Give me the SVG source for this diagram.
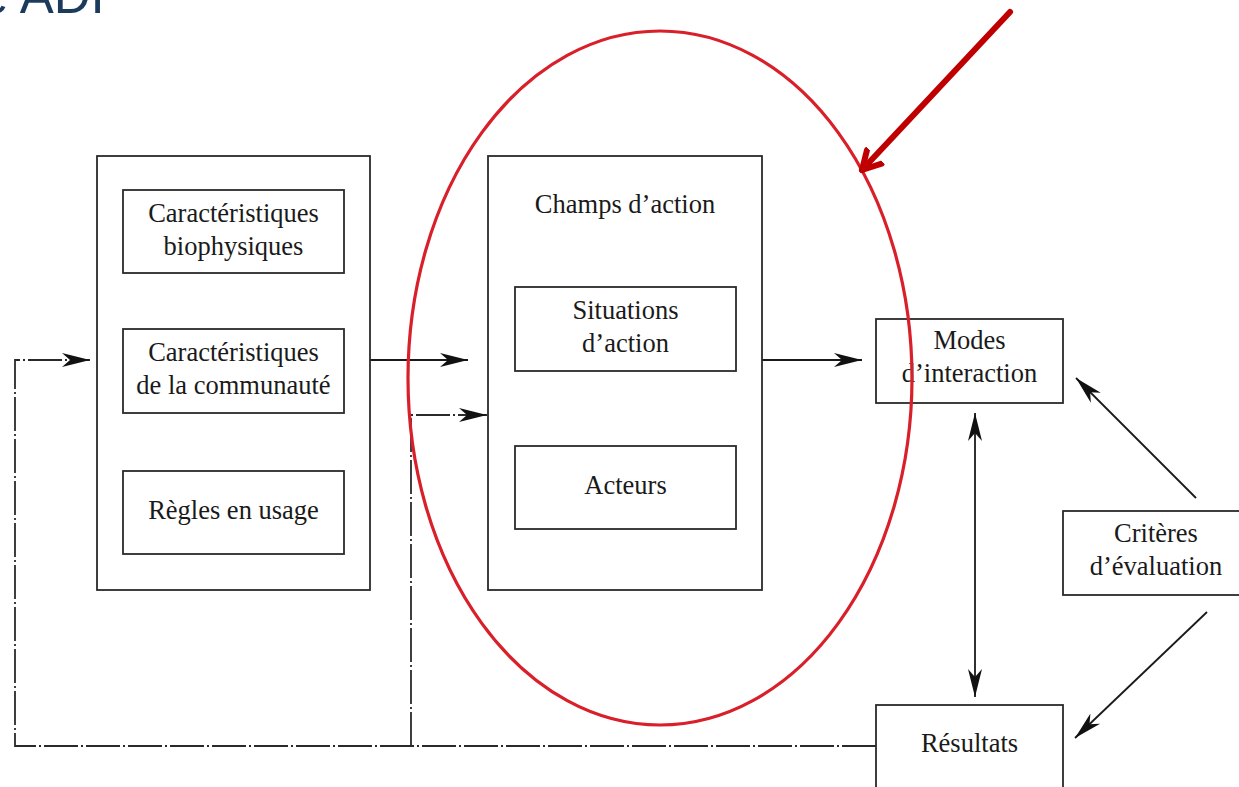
<svg xmlns="http://www.w3.org/2000/svg" width="1239" height="787" viewBox="0 0 1239 787">
<style>
.box{fill:none;stroke:#2a2a2a;stroke-width:1.8}
.t{font-family:"Liberation Serif","Times New Roman",serif;font-size:26.5px;fill:#1a1a1a;text-anchor:middle}
.ln{fill:none;stroke:#1a1a1a;stroke-width:1.8}
.dd{fill:none;stroke:#2a2a2a;stroke-width:1.8;stroke-dasharray:34 3 2 3}
</style>
<defs>
<marker id="ah" markerUnits="userSpaceOnUse" markerWidth="30" markerHeight="16" refX="28" refY="8" orient="auto-start-reverse" viewBox="0 0 30 16">
<path d="M0,1 L28,8 L0,15 L8,8 z" fill="#111"/>
</marker>
<marker id="rh" markerUnits="userSpaceOnUse" markerWidth="40" markerHeight="40" refX="20" refY="20" orient="auto" viewBox="0 0 40 40">
<path d="M2,10 L20,20 L2,30" fill="none" stroke="#c00000" stroke-width="6" stroke-linecap="round" stroke-linejoin="round"/>
</marker>
</defs>
<rect width="1239" height="787" fill="#fff"/>
<text x="-20" y="13" font-family="'Liberation Sans',Arial,sans-serif" font-size="51" fill="#1b3a5c">e ADI</text>

<g id="connectors">
<path class="dd" d="M876,746 H15 V360 H90" marker-end="url(#ah)"/>
<path class="dd" d="M411,746 V415 H487" marker-end="url(#ah)"/>
<path class="ln" d="M370,360 H468" marker-end="url(#ah)"/>
<path class="ln" d="M762,360 H862" marker-end="url(#ah)"/>
<path class="ln" d="M975,413 V697" marker-start="url(#ah)" marker-end="url(#ah)"/>
<path class="ln" d="M1196,498 L1076,378" marker-end="url(#ah)"/>
<path class="ln" d="M1207,612 L1075,738" marker-end="url(#ah)"/>
</g>

<g id="outer-left"><rect class="box" x="97" y="156" width="273" height="434"/></g>
<g id="carac-bio"><rect class="box" x="123" y="190" width="221" height="83"/>
<text class="t" x="233.5" y="222">Caractéristiques</text><text class="t" x="233.5" y="255">biophysiques</text></g>
<g id="carac-comm"><rect class="box" x="123" y="329" width="221" height="84"/>
<text class="t" x="233.5" y="361">Caractéristiques</text><text class="t" x="233.5" y="394">de la communauté</text></g>
<g id="regles"><rect class="box" x="123" y="471" width="221" height="83"/>
<text class="t" x="233.5" y="519">Règles en usage</text></g>

<g id="champs"><rect class="box" x="488" y="156" width="274" height="434"/>
<text class="t" x="625" y="213">Champs d’action</text></g>
<g id="situations"><rect class="box" x="515" y="287" width="221" height="84"/>
<text class="t" x="625.5" y="319">Situations</text><text class="t" x="625.5" y="352">d’action</text></g>
<g id="acteurs"><rect class="box" x="515" y="446" width="221" height="83"/>
<text class="t" x="625.5" y="494">Acteurs</text></g>

<g id="modes"><rect class="box" x="876" y="319" width="187" height="84"/>
<text class="t" x="969.5" y="349">Modes</text><text class="t" x="969.5" y="382">d’interaction</text></g>
<g id="criteres"><rect class="box" x="1063" y="511" width="180" height="84"/>
<text class="t" x="1156" y="542">Critères</text><text class="t" x="1156" y="575">d’évaluation</text></g>
<g id="resultats"><rect class="box" x="876" y="705" width="187" height="90"/>
<text class="t" x="969.5" y="752">Résultats</text></g>

<g id="highlight">
<ellipse cx="660" cy="378" rx="252" ry="347" fill="none" stroke="#d9202a" stroke-width="3.2"/>
<path d="M1010,12 L862,170" fill="none" stroke="#c00000" stroke-width="6" stroke-linecap="round" marker-end="url(#rh)"/>
</g>
</svg>
